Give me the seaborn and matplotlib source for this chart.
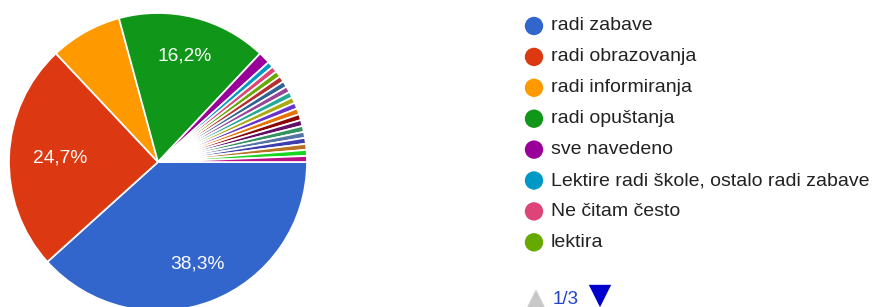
import matplotlib
matplotlib.use("Agg")
import matplotlib.pyplot as plt
import numpy as np
import seaborn as sns

sns.set_theme(style="white")
plt.rcParams['font.family'] = ['Liberation Sans', 'DejaVu Sans']

# ---- data (154 responses) ----
categories = [
    "radi zabave", "radi obrazovanja", "radi informiranja", "radi opuštanja",
    "sve navedeno", "Lektire radi škole, ostalo radi zabave", "Ne čitam često", "lektira",
    "odgovor 9", "odgovor 10", "odgovor 11", "odgovor 12", "odgovor 13", "odgovor 14",
    "odgovor 15", "odgovor 16", "odgovor 17", "odgovor 18", "odgovor 19", "odgovor 20",
    "odgovor 21", "odgovor 22", "odgovor 23",
]
counts = [59, 38, 12, 25, 2, 1, 1, 1, 1, 1, 1, 1, 1, 1, 1, 1, 1, 1, 1, 1, 1, 1, 1]
pct_labels = ["38,3%", "24,7%", "", "16,2%"]
legend_page = "1/3"
legend_count = 8

colors = ["#3366cc", "#dc3912", "#ff9900", "#109618", "#990099", "#0099c6", "#dd4477",
          "#66aa00", "#b82e2e", "#316395", "#994499", "#22aa99", "#aaaa11", "#6633cc",
          "#e67300", "#8b0707", "#651067", "#329262", "#5574a6", "#3b3eac", "#b77322",
          "#16d620", "#b91383"]

# label radial placement (style)
label_radius = [0.73, 0.66, 0.73, 0.73]

W, H = 873, 307
fig = plt.figure(figsize=(W / 100, H / 100), dpi=100)
fig.patch.set_facecolor("white")

# pie axes: center (158,162), radius 149 px
cx, cy, r = 158, 162, 149
ax = fig.add_axes([(cx - r) / W, (H - (cy + r)) / H, 2 * r / W, 2 * r / H])
ax.axis("off")

wedges, _ = ax.pie(counts, colors=colors, startangle=0, counterclock=False, radius=1,
                   wedgeprops=dict(edgecolor="white", linewidth=1.25), frame=False)
ax.set_xlim(-1, 1)
ax.set_ylim(-1, 1)

total = sum(counts)
ang = 0.0
for i, c in enumerate(counts):
    span = 360.0 * c / total
    if i < len(pct_labels) and pct_labels[i]:
        mid = np.deg2rad(ang - span / 2)
        rr = label_radius[i]
        ax.text(rr * np.cos(mid), rr * np.sin(mid), pct_labels[i], color="white",
                fontsize=13.8, ha="center", va="center")
    ang -= span

# legend drawn in pixel coordinates
lax = fig.add_axes([0, 0, 1, 1])
lax.set_xlim(0, W)
lax.set_ylim(H, 0)
lax.axis("off")
lax.patch.set_alpha(0)
y0, dy = 26, 30.9
for i in range(legend_count):
    y = y0 + i * dy
    lax.scatter([534], [y], s=175, color=colors[i], edgecolors="none")
    lax.text(551, y, categories[i], fontsize=14, color="#222222", ha="left", va="center")

lax.scatter([536], [300], marker="^", s=230, color="#c8c8c8", edgecolors="none", clip_on=False)
lax.text(553, 300, legend_page, fontsize=13.5, color="#2244cc", ha="left", va="center")
lax.scatter([600], [296], marker="v", s=260, color="#0000cc", edgecolors="none", clip_on=False)

fig.savefig("out.png", dpi=100, facecolor="white")
